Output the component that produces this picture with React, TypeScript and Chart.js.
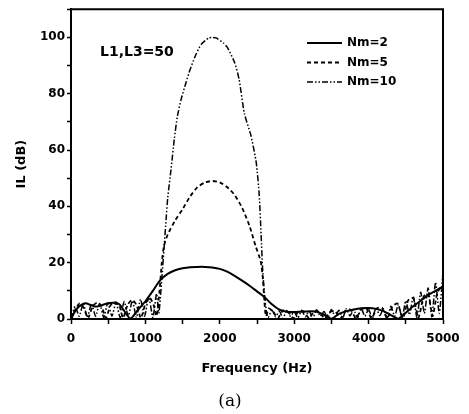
import React, { useEffect, useRef } from "react";
import { Chart, registerables } from "chart.js";

Chart.register(...registerables);

const seriesNames = ["Nm=2", "Nm=5", "Nm=10"];
const annotationText = "L1,L3=50";
const xTitle = "Frequency (Hz)";
const yTitle = "IL (dB)";
const panelLabel = "(a)";

const freqNm2 = [0, 50, 100, 150, 200, 300, 350, 400, 500, 600, 650, 700, 750, 800, 850, 900, 1000, 1100, 1200, 1300, 1400, 1500, 1600, 1700, 1800, 1900, 2000, 2100, 2200, 2300, 2400, 2500, 2600, 2700, 2800, 2900, 3000, 3100, 3200, 3300, 3400, 3500, 3600, 3700, 3800, 3900, 4000, 4100, 4200, 4300, 4400, 4500, 4600, 4700, 4800, 4900, 5000];
const ilNm2 = [0, 2.5, 4.2, 5.2, 5.6, 4.6, 4.4, 4.8, 5.6, 5.7, 5.2, 3.5, 1.5, 0.2, 1.5, 3.2, 6.3, 10, 13.8, 16, 17.3, 18, 18.4, 18.5, 18.5, 18.3, 17.8, 16.8, 15.3, 13.6, 11.8, 9.8, 7.8, 5.2, 3.3, 2.6, 2.5, 2.6, 2.7, 2.6, 1.5, 0.1, 1.8, 2.8, 3.4, 3.8, 3.9, 3.6, 2.8, 1.4, 0.1, 2.2, 4.5, 6.5, 8.5, 10, 11.5];

const freqNm5 = [0, 60, 115, 170, 230, 290, 350, 410, 470, 530, 590, 650, 700, 760, 820, 880, 940, 1000, 1060, 1110, 1150, 1190, 1220, 1250, 1300, 1400, 1500, 1600, 1700, 1800, 1900, 2000, 2100, 2200, 2300, 2400, 2480, 2550, 2580, 2600, 2620, 2660, 2720, 2780, 2850, 2920, 2990, 3060, 3130, 3200, 3270, 3340, 3410, 3480, 3550, 3620, 3690, 3760, 3830, 3900, 3970, 4040, 4110, 4180, 4250, 4320, 4390, 4460, 4530, 4600, 4670, 4740, 4800, 4860, 4920, 4960, 5000];
const ilNm5 = [0, 3.5, 5.5, 4, 0.3, 4.5, 5.8, 4.5, 0.3, 4.8, 6, 4.8, 0.3, 5, 6.8, 5, 0.3, 5.5, 7.5, 5, 1, 10, 20, 26, 30, 35, 39, 43.5, 46.8, 48.5, 49, 48.5, 46.8, 44, 39.5, 33, 26, 20.5, 14, 6, 1, 3.8, 2.5, 0.3, 3, 2.5, 0.2, 2.8, 2.6, 0.2, 2.8, 2.5, 0.2, 2.5, 2.8, 0.2, 3, 3.3, 0.2, 3.5, 3.8, 0.2, 3.8, 4, 0.2, 4.5, 5.5, 0.3, 6.5, 7.5, 0.5, 8, 9, 1, 9, 11, 12];

const freqNm10 = [0, 55, 110, 165, 220, 275, 330, 385, 440, 495, 550, 605, 660, 715, 770, 825, 880, 935, 990, 1045, 1100, 1150, 1180, 1220, 1250, 1280, 1300, 1344, 1389, 1430, 1480, 1546, 1600, 1680, 1750, 1850, 1900, 1950, 2050, 2100, 2200, 2260, 2330, 2420, 2490, 2530, 2555, 2575, 2600, 2630, 2650, 2700, 2750, 2800, 2850, 2900, 2950, 3000, 3050, 3100, 3150, 3200, 3250, 3300, 3350, 3400, 3450, 3500, 3550, 3600, 3650, 3700, 3750, 3800, 3850, 3900, 3950, 4000, 4050, 4100, 4150, 4200, 4250, 4300, 4350, 4400, 4450, 4500, 4550, 4600, 4650, 4700, 4750, 4800, 4850, 4900, 4950, 5000];
const ilNm10 = [0, 4.5, 1, 5.5, 0.5, 5.5, 1, 5.5, 0.5, 5.8, 1, 6, 0.5, 6.2, 1, 6.5, 0.5, 7, 1, 8, 0.5, 9, 2, 14, 25, 36, 43, 53, 64, 72, 78, 84, 88.5, 94, 97.5, 99.8, 100, 99.8, 98, 96.5, 91, 85, 73, 65, 55.5, 44, 30, 18, 9, 2, 0.5, 3.2, 0.8, 2.8, 0.3, 3, 1, 2.6, 0.4, 3.1, 0.8, 2.9, 0.2, 3.3, 1, 2.7, 0.3, 3.4, 0.9, 3.1, 0.2, 3.6, 1.1, 3.3, 0.3, 3.8, 1, 3.5, 0.2, 4, 1.2, 3.6, 0.3, 4.5, 1, 5.2, 0.4, 6.5, 1.5, 8, 0.5, 9.5, 2, 11, 0.8, 13, 2, 17];

const xMin = 0;
const xMax = 5000;
const yMin = 0;
const yMax = 110;

const toPoints = (xs: number[], ys: number[]) => xs.map((x, i) => ({ x, y: ys[i] }));

const BOLD = "'DejaVu Sans', sans-serif";

const overlayPlugin = {
  id: "overlay",
  afterDraw(chart: any) {
    const { ctx, chartArea } = chart;
    ctx.save();
    // frame (top and right sides)
    ctx.strokeStyle = "#000";
    ctx.lineWidth = 2;
    ctx.beginPath();
    ctx.moveTo(chartArea.left, chartArea.top);
    ctx.lineTo(chartArea.right, chartArea.top);
    ctx.lineTo(chartArea.right, chartArea.bottom);
    ctx.stroke();

    // annotation
    ctx.fillStyle = "#000";
    ctx.font = `bold 14px ${BOLD}`;
    ctx.textAlign = "left";
    ctx.textBaseline = "middle";
    ctx.fillText(annotationText, 100, 52);

    // legend
    ctx.font = `bold 12px ${BOLD}`;
    chart.data.datasets.forEach((ds: any, i: number) => {
      const y = 43 + i * 19.5;
      ctx.save();
      ctx.strokeStyle = "#000";
      ctx.lineWidth = ds.borderWidth;
      ctx.setLineDash(ds.borderDash || []);
      ctx.beginPath();
      ctx.moveTo(307, y);
      ctx.lineTo(342, y);
      ctx.stroke();
      ctx.restore();
      ctx.fillText(ds.label, 347, y);
    });

    // panel label
    ctx.font = "17px 'DejaVu Serif', serif";
    ctx.textAlign = "center";
    ctx.fillText(panelLabel, 230, 402);
    ctx.restore();
  },
};

export default function App() {
  const ref = useRef<HTMLCanvasElement | null>(null);
  useEffect(() => {
    if (!ref.current) return;
    const chart = new Chart(ref.current, {
      type: "line",
      data: {
        datasets: [
          {
            label: seriesNames[0],
            data: toPoints(freqNm2, ilNm2),
            borderColor: "#000",
            borderWidth: 2,
            pointRadius: 0,
            tension: 0.3,
            fill: false,
          },
          {
            label: seriesNames[1],
            data: toPoints(freqNm5, ilNm5),
            borderColor: "#000",
            borderWidth: 1.8,
            borderDash: [4, 3],
            pointRadius: 0,
            tension: 0.2,
            fill: false,
          },
          {
            label: seriesNames[2],
            data: toPoints(freqNm10, ilNm10),
            borderColor: "#000",
            borderWidth: 1.5,
            borderDash: [6, 2, 1.5, 2, 1.5, 2],
            pointRadius: 0,
            tension: 0.2,
            fill: false,
          },
        ],
      },
      options: {
        animation: false,
        responsive: false,
        devicePixelRatio: 1,
        layout: { padding: { left: 14, right: 26, top: 5, bottom: 38 } },
        plugins: { legend: { display: false }, tooltip: { enabled: false } },
        scales: {
          x: {
            type: "linear",
            min: xMin,
            max: xMax,
            afterFit: (s: any) => {
              s.height = 57;
            },
            border: { display: true, color: "#000", width: 2 },
            grid: { drawOnChartArea: false, drawTicks: true, tickLength: 5, tickColor: "#000", tickWidth: 1.5 },
            ticks: {
              stepSize: 500,
              color: "#000",
              padding: 8,
              maxRotation: 0,
              autoSkip: false,
              font: { family: BOLD, size: 12, weight: "bold" },
              callback: (v: any) => (Number(v) % 1000 === 0 ? String(v) : ""),
            },
            title: {
              display: true,
              text: xTitle,
              color: "#000",
              padding: 0,
              font: { family: BOLD, size: 13, weight: "bold" },
            },
          },
          y: {
            type: "linear",
            min: yMin,
            max: yMax,
            afterFit: (s: any) => {
              s.width = 57;
            },
            border: { display: true, color: "#000", width: 2 },
            grid: { drawOnChartArea: false, drawTicks: true, tickLength: 4, tickColor: "#000", tickWidth: 1.5 },
            ticks: {
              stepSize: 10,
              color: "#000",
              padding: 2,
              autoSkip: false,
              font: { family: BOLD, size: 12, weight: "bold" },
              callback: (v: any) => (Number(v) % 20 === 0 ? String(v) : ""),
            },
            title: {
              display: true,
              text: yTitle,
              color: "#000",
              padding: 0,
              font: { family: BOLD, size: 13, weight: "bold" },
            },
          },
        },
      },
      plugins: [overlayPlugin],
    });
    return () => chart.destroy();
  }, []);

  return (
    <div style={{ position: "fixed", left: 0, top: 0, width: 469, height: 414, background: "#fff" }}>
      <canvas ref={ref} width={469} height={414} style={{ width: 469, height: 414, display: "block" }} />
    </div>
  );
}
